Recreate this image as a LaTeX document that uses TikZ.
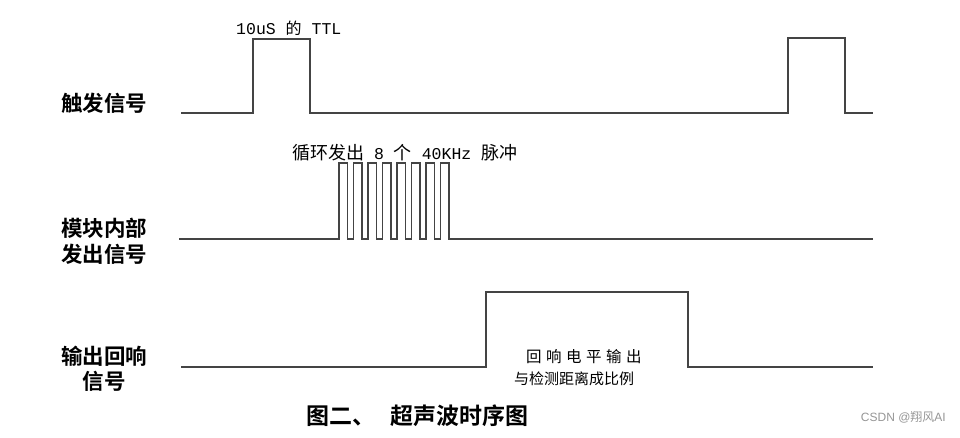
\documentclass[tikz,border=0pt]{standalone}
\usepackage{fontspec}
\setmainfont{Liberation Serif}
\newfontfamily\cjk{Noto Sans CJK SC}
\newfontfamily\cjkb{Noto Sans CJK SC Bold}
\newfontfamily\mono{Liberation Mono}
\newfontfamily\sans{Liberation Sans}
\definecolor{wave}{RGB}{68,68,68}
\definecolor{wm}{RGB}{150,150,150}
\tikzset{
  wavestyle/.style={draw=wave, line width=1.6pt, line join=miter},
  sidelabel/.style={anchor=west, inner sep=0pt, font=\cjkb\fontsize{21.5}{24}\selectfont},
  notetext/.style={inner sep=0pt, text=black},
}
\begin{document}
\begin{tikzpicture}[x=1pt,y=-1pt]
\useasboundingbox[fill=white] (0,0) rectangle (960,437);
% trigger waveform
\draw[wavestyle] (181,113) -- (253,113) -- (253,39) -- (310,39) -- (310,113)
  -- (788,113) -- (788,38) -- (845,38) -- (845,113) -- (873,113);
% module waveform
\draw[wavestyle] (179,239) foreach \i in {0,...,7}{
   -- ({339+14.5*\i},239) -- ({339+14.5*\i},163) -- ({347.5+14.5*\i},163) -- ({347.5+14.5*\i},239)}
   -- (873,239);
% echo waveform
\draw[wavestyle] (181,367) -- (486,367) -- (486,292) -- (688,292) -- (688,367) -- (873,367);
% side labels
\node[sidelabel] (l1) at (61,103) {触发信号};
\node[sidelabel] (l2a) at (61,228) {模块内部};
\node[sidelabel] (l2b) at (61,254) {发出信号};
\node[sidelabel] (l3a) at (61,356) {输出回响};
\node[sidelabel, anchor=center] (l3b) at (104,381) {信号};
% annotations
\node[notetext, anchor=west] (ttl) at (236,28)
  {\mono\fontsize{16.5}{18}\selectfont 10uS \cjk\fontsize{16}{18}\selectfont 的\mono\fontsize{16.5}{18}\selectfont{} TTL};
\node[notetext, anchor=west] (burst) at (292,153)
  {\cjk\fontsize{18}{20}\selectfont 循环发出\mono\fontsize{16.5}{20}\selectfont{} 8 \cjk\fontsize{18}{20}\selectfont 个\mono\fontsize{16.5}{20}\selectfont{} 40KHz \cjk\fontsize{18}{20}\selectfont 脉冲};
\node[notetext, anchor=west] (echo1) at (526,357)
  {\cjk\fontsize{15.5}{18}\selectfont 回\hskip4.5pt 响\hskip4.5pt 电\hskip4.5pt 平\hskip4.5pt 输\hskip4.5pt 出};
\node[notetext, anchor=west] (echo2) at (514,379)
  {\cjk\fontsize{15}{18}\selectfont 与检测距离成比例};
% caption
\node[notetext, anchor=west, font=\cjkb\fontsize{23}{26}\selectfont] (cap1) at (306,416) {图二、};
\node[notetext, anchor=west, font=\cjkb\fontsize{23}{26}\selectfont] (cap2) at (390,416) {超声波时序图};
% watermark
\node[notetext, anchor=east, text=wm] (wmark) at (946,417)
  {\sans\fontsize{12}{14}\selectfont CSDN @\cjk 翔风\sans AI};
\end{tikzpicture}
\end{document}
